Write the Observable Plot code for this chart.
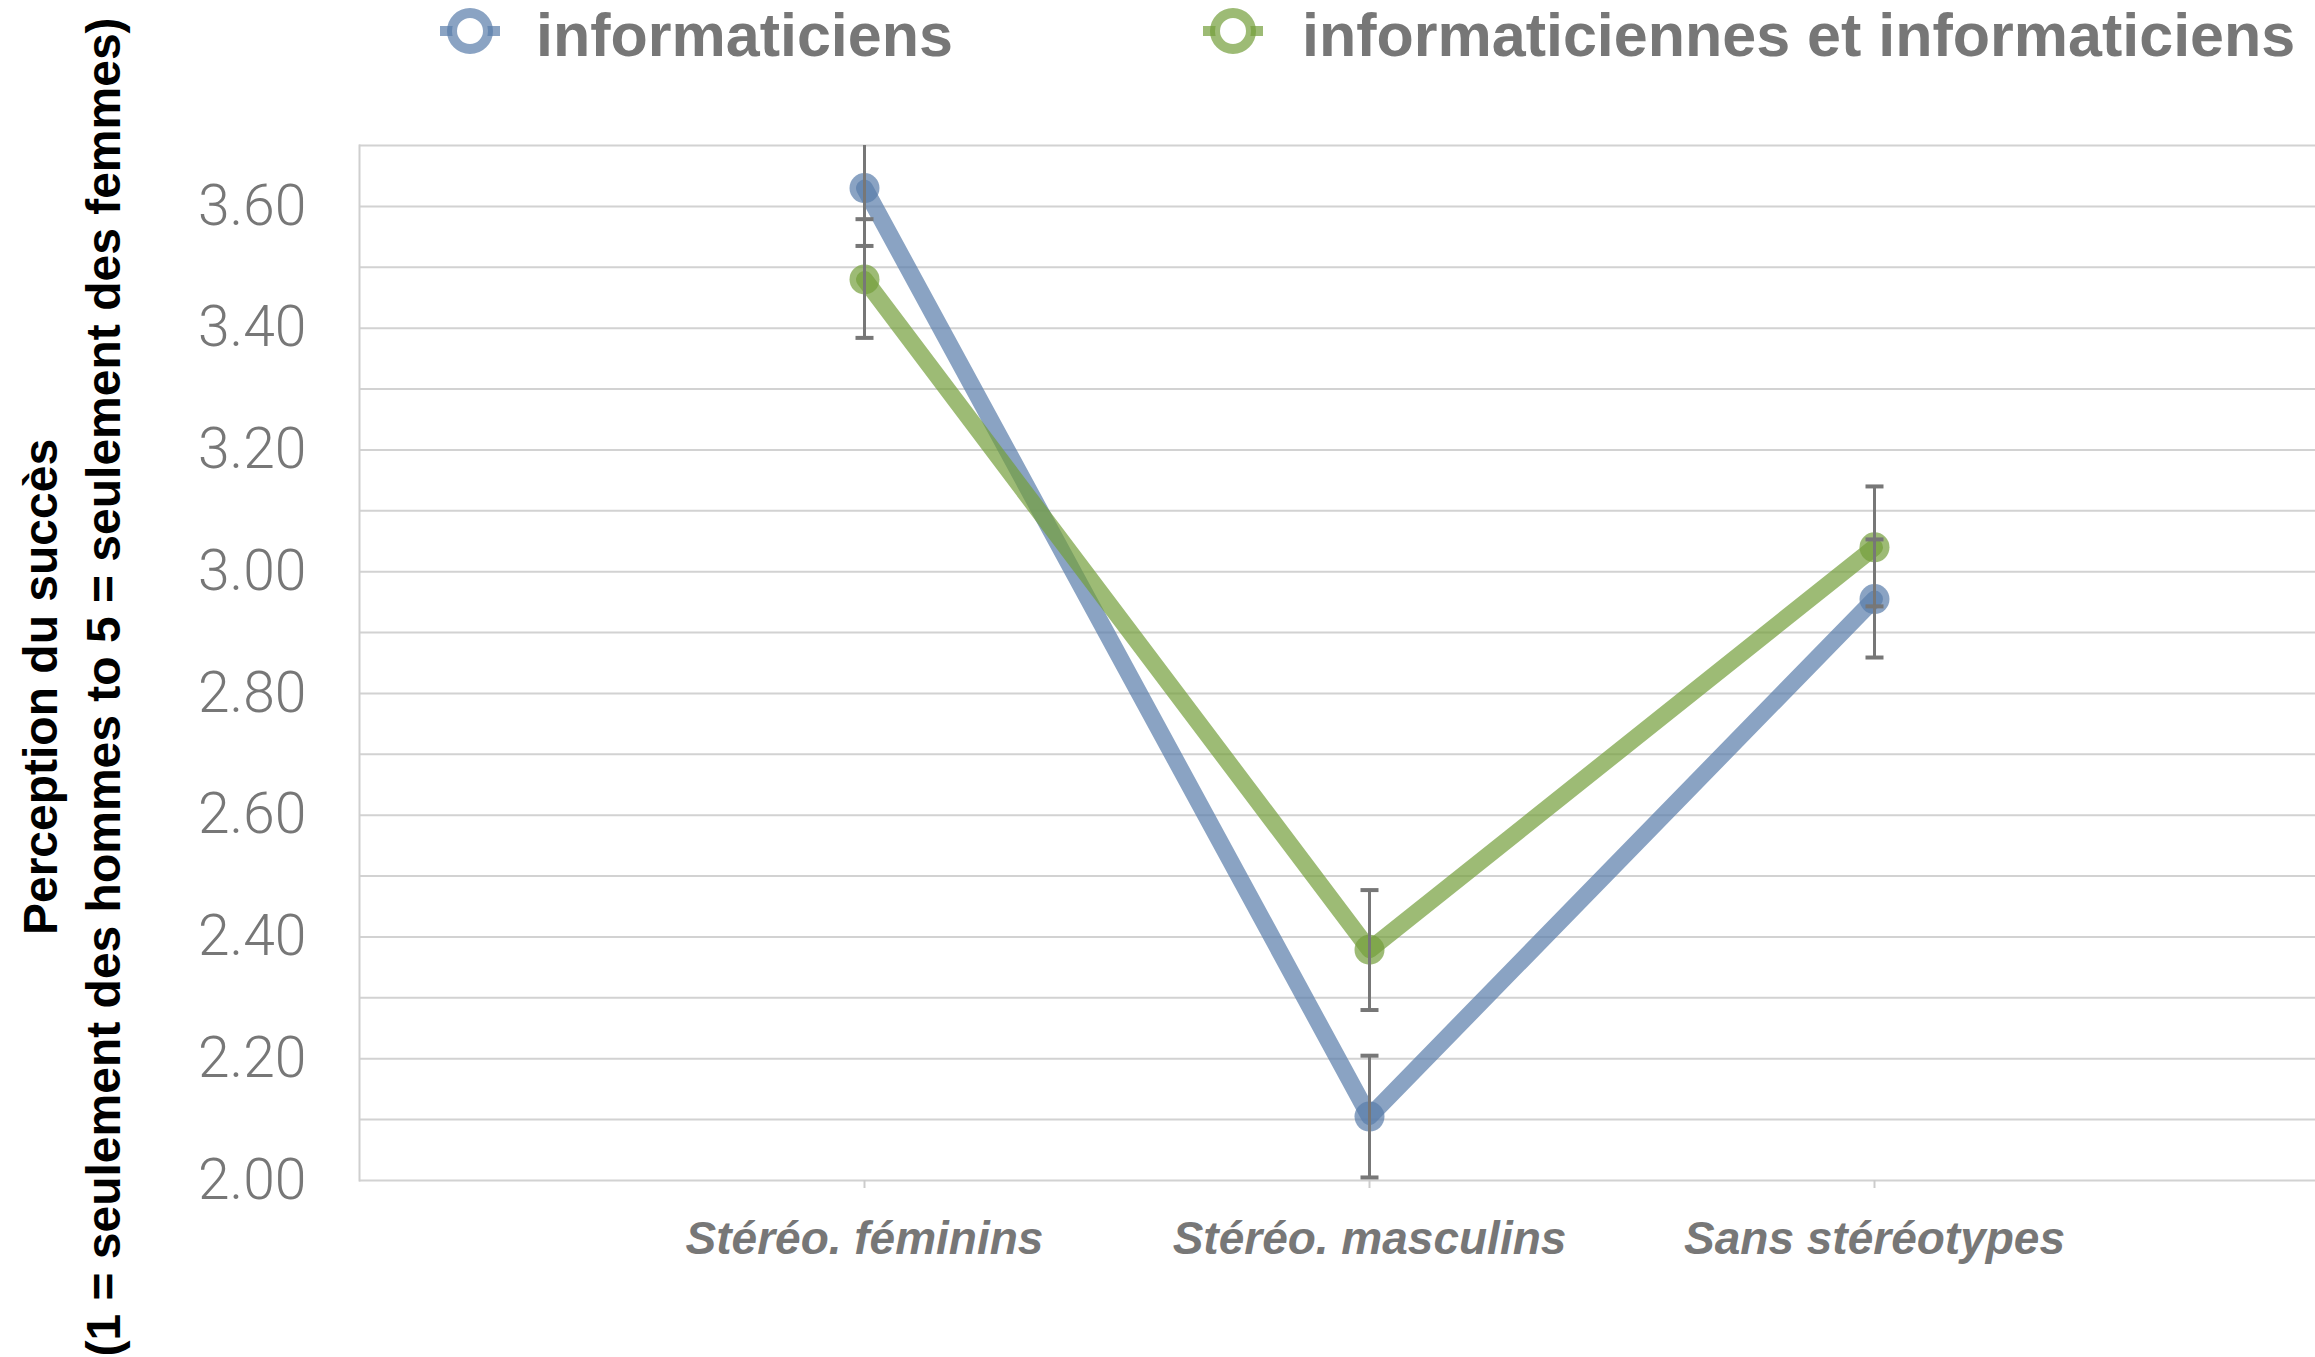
<!DOCTYPE html>
<html>
<head>
<meta charset="utf-8">
<script src="https://cdn.jsdelivr.net/npm/d3@7"></script>
<script src="https://cdn.jsdelivr.net/npm/@observablehq/plot@0.6"></script>
<style>
  html, body { margin: 0; padding: 0; background: #fff; }
  #wrap { position: relative; width: 2315px; height: 1357px; }
  #legend { position: absolute; left: 0; top: 0; }
  #chart { position: absolute; left: 0; top: 0; }
</style>
</head>
<body>
<div id="wrap">
  <div id="chart"></div>
  <svg id="legend" width="2315" height="80"></svg>
</div>
<script>
// ---- data ----
const categories = ["Stéréo. féminins", "Stéréo. masculins", "Sans stéréotypes"];
const seriesNames = ["informaticiens", "informaticiennes et informaticiens"];
const seriesColors = ["#587ca9", "#739e3b"];

// informaticiens
const infoMean = [3.630, 2.105, 2.955];
const infoLow  = [3.535, 2.005, 2.859];
const infoHigh = [3.725, 2.205, 3.053];
// informaticiennes et informaticiens
const mixMean = [3.480, 2.379, 3.040];
const mixLow  = [3.384, 2.280, 2.943];
const mixHigh = [3.579, 2.477, 3.140];

const yTickValues = [2.0, 2.2, 2.4, 2.6, 2.8, 3.0, 3.2, 3.4, 3.6];
const yGridValues = [2.0, 2.1, 2.2, 2.3, 2.4, 2.5, 2.6, 2.7, 2.8, 2.9, 3.0, 3.1, 3.2, 3.3, 3.4, 3.5, 3.6, 3.7];
const yDomain = [2.0, 3.7];
const yTitle1 = "Perception du succès";
const yTitle2 = "(1 = seulement des hommes to 5 = seulement des femmes)";

// ---- table ----
const means = [infoMean, mixMean], lows = [infoLow, mixLow], highs = [infoHigh, mixHigh];
const rows = [];
seriesNames.forEach((s, si) => categories.forEach((c, ci) => rows.push({
  serie: s, cat: c, mean: means[si][ci], low: lows[si][ci], high: highs[si][ci]
})));
const bySerie = s => rows.filter(r => r.serie === s);

// horizontal cap symbol for error bars
const capSymbol = {
  draw(context, size) {
    const r = Math.sqrt(size / Math.PI);
    context.moveTo(-r, 0);
    context.lineTo(r, 0);
  }
};

const seriesMarks = seriesNames.flatMap(s => [
  Plot.line(bySerie(s), {x: "cat", y: "mean", stroke: "serie", strokeWidth: 17, strokeOpacity: 0.7}),
  Plot.dot(bySerie(s), {x: "cat", y: "mean", fill: "serie", r: 15, fillOpacity: 0.7, stroke: null})
]);

const titleStyle = {frameAnchor: "left", textAnchor: "middle", rotate: -90, dy: 24,
  fontSize: 48, fontWeight: "bold", fill: "#000"};

const chart = Plot.plot({
  width: 2315,
  height: 1357,
  marginLeft: 359,
  marginRight: 0,
  marginTop: 145,
  marginBottom: 177,
  style: {background: "#fff", fontFamily: "'Liberation Sans', Arial, sans-serif"},
  x: {type: "point", domain: categories, range: [864, 1874], padding: 0},
  y: {domain: yDomain},
  color: {domain: seriesNames, range: seriesColors},
  marks: [
    Plot.ruleY(yGridValues, {stroke: "#d2d2d2", strokeWidth: 2}),
    Plot.frame({anchor: "left", stroke: "#cfcfcf", strokeWidth: 2}),
    Plot.axisY(yTickValues, {
      tickSize: 0, tickPadding: 53, tickFormat: d3.format(".2f"),
      fontSize: 57, fontWeight: 300, fill: "#777",
      fontFamily: "Roboto, 'Liberation Sans', sans-serif", label: null
    }),
    Plot.axisX({
      tickSize: 8, tickPadding: 33, stroke: "#cccccc", strokeWidth: 2,
      fontSize: 46, fontStyle: "italic", fontWeight: "bold", fill: "#777", label: null
    }),
    ...seriesMarks,
    Plot.ruleX(rows, {x: "cat", y1: "low", y2: "high", stroke: "#777", strokeWidth: 3, clip: true}),
    Plot.dot(rows, {x: "cat", y: "low", symbol: capSymbol, r: 9, stroke: "#777", strokeWidth: 4, fill: "none", clip: true}),
    Plot.dot(rows, {x: "cat", y: "high", symbol: capSymbol, r: 9, stroke: "#777", strokeWidth: 4, fill: "none", clip: true}),
    Plot.text([yTitle1], {...titleStyle, dx: -318}),
    Plot.text([yTitle2], {...titleStyle, dx: -255})
  ]
});
document.getElementById("chart").appendChild(chart);

// ---- legend ----
const legend = d3.select("#legend");
const legendMarkerX = [470, 1233];
const legendTextX = [536, 1302];
seriesNames.forEach((s, i) => {
  const g = legend.append("g").attr("transform", `translate(${legendMarkerX[i]},31)`);
  g.append("line").attr("x1", -30).attr("x2", 30).attr("y1", 0).attr("y2", 0)
    .attr("stroke", seriesColors[i]).attr("stroke-opacity", 0.7).attr("stroke-width", 10);
  g.append("circle").attr("r", 18).attr("fill", "#fff")
    .attr("stroke", seriesColors[i]).attr("stroke-opacity", 0.7).attr("stroke-width", 10);
  legend.append("text").attr("x", legendTextX[i]).attr("y", 56)
    .attr("font-family", "'Liberation Sans', Arial, sans-serif")
    .attr("font-weight", "bold").attr("font-size", 61).attr("fill", "#777").text(s);
});
</script>
</body>
</html>
